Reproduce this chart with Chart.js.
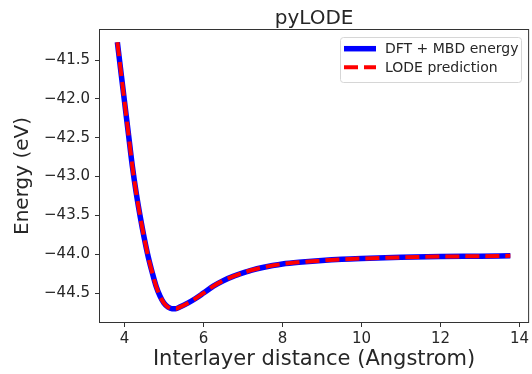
<!DOCTYPE html>
<html>
<head>
<meta charset="utf-8">
<script src="https://cdn.jsdelivr.net/npm/chart.js@4"></script>
<style>
  html, body { margin: 0; padding: 0; background: #fff; }
  #wrap { width: 532px; height: 374px; }
</style>
</head>
<body>
<div id="wrap"><canvas id="chart" width="532" height="374"></canvas></div>
<script>
// distances (Angstrom) and energies (eV)
const distance = [3.82, 3.9, 4.0, 4.1, 4.2, 4.3, 4.4, 4.5, 4.6, 4.7, 4.8, 4.9, 5.0, 5.1, 5.2, 5.3, 5.4,
    5.6, 5.8, 6.0, 6.25, 6.5, 6.75, 7.0, 7.25, 7.5, 7.75, 8.0, 8.5, 9.0, 9.5, 10.0, 11.0, 12.0, 13.0, 13.77];
const dftEnergy = [-41.27, -41.61, -42.03, -42.45, -42.87, -43.22, -43.52, -43.79, -44.03, -44.23, -44.41, -44.54,
    -44.63, -44.68, -44.70, -44.70, -44.68, -44.63, -44.57, -44.50, -44.41, -44.34, -44.285, -44.24, -44.20,
    -44.17, -44.145, -44.125, -44.10, -44.08, -44.065, -44.055, -44.04, -44.03, -44.025, -44.02];
const lodeEnergy = [-41.27, -41.61, -42.03, -42.45, -42.87, -43.22, -43.52, -43.79, -44.03, -44.23, -44.41, -44.54,
    -44.63, -44.68, -44.70, -44.70, -44.68, -44.63, -44.57, -44.50, -44.41, -44.34, -44.285, -44.24, -44.20,
    -44.17, -44.145, -44.125, -44.10, -44.08, -44.065, -44.055, -44.04, -44.03, -44.025, -44.02];
const xTicks = [4, 6, 8, 10, 12, 14];
const yTicks = [-41.5, -42.0, -42.5, -43.0, -43.5, -44.0, -44.5];

const FONT = "'DejaVu Sans', sans-serif";
const INK = "#262626";

const toPoints = ys => distance.map((x, i) => ({ x: x, y: ys[i] }));

// frame, title and in-plot legend, matplotlib style
const decorations = {
    id: "decorations",
    afterDraw(chart) {
        const { ctx, chartArea: a } = chart;
        ctx.save();
        ctx.strokeStyle = "#333";
        ctx.lineWidth = 1;
        ctx.strokeRect(a.left + 0.5, a.top + 0.5, a.right - a.left - 1, a.bottom - a.top - 1);

        ctx.fillStyle = INK;
        ctx.font = "20px " + FONT;
        ctx.textAlign = "center";
        ctx.textBaseline = "alphabetic";
        ctx.fillText("pyLODE", (a.left + a.right) / 2, 24);

        // legend box
        const bx = 340.5, by = 37.5, bw = 181, bh = 45;
        ctx.beginPath();
        ctx.roundRect(bx, by, bw, bh, 3);
        ctx.fillStyle = "rgba(255,255,255,0.8)";
        ctx.fill();
        ctx.strokeStyle = "#d6d6d6";
        ctx.stroke();

        const rows = [48.7, 67.3];
        chart.data.datasets.forEach((ds, i) => {
            ctx.beginPath();
            ctx.setLineDash(ds.borderDash || []);
            ctx.lineWidth = ds.borderWidth;
            ctx.strokeStyle = ds.borderColor;
            ctx.moveTo(344, rows[i]);
            ctx.lineTo(376, rows[i]);
            ctx.stroke();
            ctx.setLineDash([]);
            ctx.fillStyle = INK;
            ctx.font = "14px " + FONT;
            ctx.textAlign = "left";
            ctx.textBaseline = "middle";
            ctx.fillText(ds.label, 385, rows[i] + 1);
        });
        ctx.restore();
    }
};

new Chart(document.getElementById("chart"), {
    type: "line",
    data: {
        datasets: [
            {
                label: "DFT + MBD energy",
                data: toPoints(dftEnergy),
                borderColor: "#0000ff",
                borderWidth: 5.5,
                pointRadius: 0,
                order: 2,
                cubicInterpolationMode: "monotone"
            },
            {
                label: "LODE prediction",
                data: toPoints(lodeEnergy),
                borderColor: "#ff0000",
                borderWidth: 4,
                borderDash: [14, 6],
                pointRadius: 0,
                order: 1,
                cubicInterpolationMode: "monotone"
            }
        ]
    },
    options: {
        responsive: false,
        animation: false,
        layout: { padding: { top: 29, right: 1, left: 0, bottom: 0 } },
        plugins: { legend: { display: false }, tooltip: { enabled: false } },
        scales: {
            x: {
                type: "linear",
                min: 3.355,
                max: 14.245,
                afterBuildTicks: s => { s.ticks = xTicks.map(v => ({ value: v })); },
                afterFit: s => { s.height = 51; },
                grid: { drawOnChartArea: false, drawTicks: true, tickLength: 4, color: "#333" },
                border: { display: false },
                ticks: { font: { family: FONT, size: 15 }, color: INK, padding: 3, maxRotation: 0,
                    callback: v => String(v) },
                title: { display: true, text: "Interlayer distance (Angstrom)", color: INK,
                    font: { family: FONT, size: 21 }, padding: { top: 0, bottom: 2 } }
            },
            y: {
                type: "linear",
                min: -44.885,
                max: -41.1,
                afterBuildTicks: s => { s.ticks = yTicks.map(v => ({ value: v })); },
                afterFit: s => { s.width = 99; },
                grid: { drawOnChartArea: false, drawTicks: true, tickLength: 4, color: "#333" },
                border: { display: false },
                ticks: { font: { family: FONT, size: 15 }, color: INK, padding: 5,
                    callback: v => v.toFixed(1).replace("-", "\u2212") },
                title: { display: true, text: "Energy (eV)", color: INK,
                    font: { family: FONT, size: 20 }, padding: { top: 11, bottom: 0 } }
            }
        }
    },
    plugins: [decorations]
});
</script>
</body>
</html>
